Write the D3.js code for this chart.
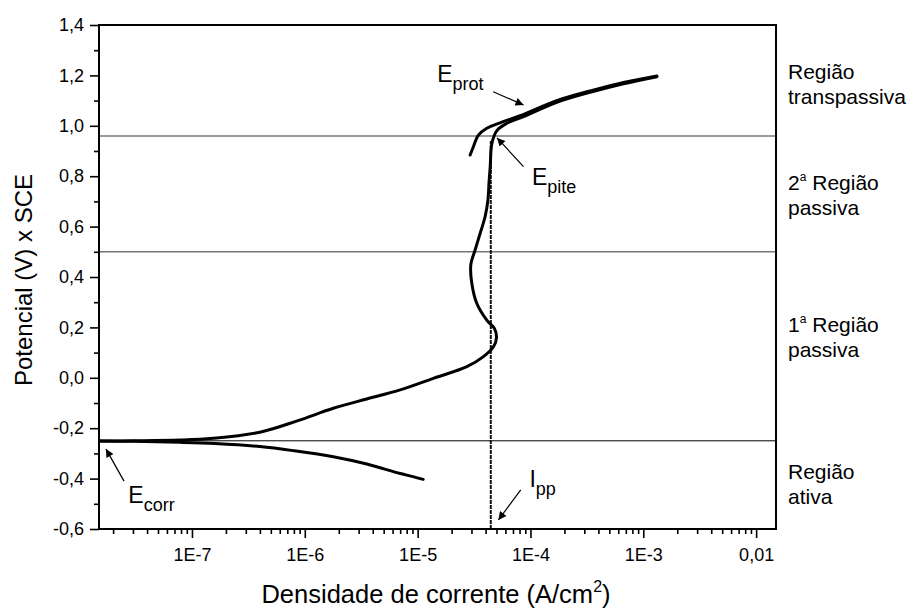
<!DOCTYPE html>
<html><head><meta charset="utf-8">
<script src="https://cdn.jsdelivr.net/npm/d3@7"></script>
<style>
html,body{margin:0;padding:0;background:#fff;}
svg text{font-family:"Liberation Sans",Arial,sans-serif;fill:#000;}
</style></head>
<body><svg id="c" width="911" height="608"></svg>
<script>
// ---- data ----
const xDomain = [1.5e-8, 1.5e-2];
const yDomain = [-0.6, 1.4];
const xTickValues = [1e-7, 1e-6, 1e-5, 1e-4, 1e-3, 1e-2];
const xTickLabels = ["1E-7", "1E-6", "1E-5", "1E-4", "1E-3", "0,01"];
const yTickValues = [-0.6, -0.4, -0.2, 0.0, 0.2, 0.4, 0.6, 0.8, 1.0, 1.2, 1.4];
const yTickLabels = ["-0,6", "-0,4", "-0,2", "0,0", "0,2", "0,4", "0,6", "0,8", "1,0", "1,2", "1,4"];
const yMinorValues = [-0.5, -0.3, -0.1, 0.1, 0.3, 0.5, 0.7, 0.9, 1.1, 1.3];

// cathodic branch [current A/cm2, potential V]
const cathodicBranch = [
  [1.12e-5, -0.403], [9.1e-6, -0.392], [7.0e-6, -0.380], [3.54e-6, -0.342], [1.79e-6, -0.313],
  [7.9e-7, -0.289], [4.0e-7, -0.273], [1.6e-7, -0.261], [7.8e-8, -0.256], [3e-8, -0.252], [1.5e-8, -0.251]
];
// anodic forward scan
const anodicForward = [
  [1.5e-8, -0.251], [3e-8, -0.250], [7.8e-8, -0.247], [1.54e-7, -0.240], [4.0e-7, -0.216],
  [8.7e-7, -0.170], [1.79e-6, -0.121], [3.54e-6, -0.084], [7.0e-6, -0.048], [1.38e-5, -0.002],
  [2.73e-5, 0.044], [3.83e-5, 0.084], [4.7e-5, 0.123], [5.0e-5, 0.160], [4.8e-5, 0.195],
  [4.1e-5, 0.229], [3.34e-5, 0.296], [3.02e-5, 0.375], [2.96e-5, 0.448], [3.23e-5, 0.507],
  [3.58e-5, 0.573], [3.96e-5, 0.639], [4.2e-5, 0.706], [4.3e-5, 0.780], [4.4e-5, 0.840],
  [4.55e-5, 0.930], [5.04e-5, 0.981], [6.17e-5, 1.010], [8.67e-5, 1.036], [1.71e-4, 1.093],
  [3.38e-4, 1.133], [6.67e-4, 1.167], [1.32e-3, 1.195]
];
// reverse scan
const reverseScan = [
  [1.32e-3, 1.198], [6.67e-4, 1.172], [3.38e-4, 1.138], [1.71e-4, 1.100], [8.09e-5, 1.040],
  [5.38e-5, 1.012], [4.1e-5, 0.990], [3.46e-5, 0.963], [3.12e-5, 0.917], [2.92e-5, 0.884]
];
// region boundaries (potential, V)
const regionLines = [0.96, 0.5, -0.25];
// passivation current
const ippCurrent = 4.45e-5;
const ippTop = 0.94;
// region names
const regionLabels = [
  {lines: [["Região"], ["transpassiva"]], E: 1.186},
  {lines: [["2", "a", " Região"], ["passiva"]], E: 0.745},
  {lines: [[" 1", "a", " Região"], ["passiva"]], E: 0.18},
  {lines: [["Região"], ["ativa"]], E: -0.40}
];
// annotations: label anchor (i,E) and arrow from/to (i,E)
const annotations = [
  {main: "E", sub: "prot", i: 1.49e-5, E: 1.174, from: [4.67e-5, 1.135], to: [8.67e-5, 1.083]},
  {main: "E", sub: "pite", i: 1.03e-4, E: 0.765, from: [8.67e-5, 0.838], to: [5.06e-5, 0.952]},
  {main: "E", sub: "corr", i: 2.73e-8, E: -0.498, from: [2.5e-8, -0.41], to: [1.73e-8, -0.283]},
  {main: "I", sub: "pp", i: 9.8e-5, E: -0.432, from: [8.2e-5, -0.445], to: [5.2e-5, -0.564]}
];

// ---- chart ----
const svg = d3.select("#c");
const L = 99, R = 776, T = 25, B = 529;
const x = d3.scaleLog().domain(xDomain).range([L, R]);
const y = d3.scaleLinear().domain(yDomain).range([B, T]);

const defs = svg.append("defs");
defs.append("marker").attr("id", "ah").attr("viewBox", "0 0 10 10")
  .attr("refX", 10).attr("refY", 5).attr("markerWidth", 11).attr("markerHeight", 8)
  .attr("markerUnits", "userSpaceOnUse").attr("orient", "auto")
  .append("path").attr("d", "M0,0 L10,5 L0,10 Z").attr("fill", "#000");
defs.append("clipPath").attr("id", "clip").append("rect")
  .attr("x", L).attr("y", T).attr("width", R - L).attr("height", B - T);

// region lines
svg.append("g").selectAll("line").data(regionLines).join("line")
  .attr("x1", L).attr("x2", R).attr("y1", d => y(d)).attr("y2", d => y(d))
  .attr("stroke", (d, k) => k < 2 ? "#777" : "#000")
  .attr("stroke-width", (d, k) => k < 2 ? 1.5 : 1);

// Ipp vertical line
svg.append("line").attr("x1", x(ippCurrent)).attr("x2", x(ippCurrent))
  .attr("y1", y(yDomain[0])).attr("y2", y(ippTop))
  .attr("stroke", "#111").attr("stroke-width", 2).attr("stroke-dasharray", "4,1");

// curves
const line = d3.line().x(d => x(d[0])).y(d => y(d[1])).curve(d3.curveCatmullRom.alpha(0.5));
const cg = svg.append("g").attr("clip-path", "url(#clip)");
[cathodicBranch, anodicForward, reverseScan].forEach(s => {
  cg.append("path").attr("d", line(s)).attr("fill", "none").attr("stroke", "#000")
    .attr("stroke-width", 3).attr("stroke-linejoin", "round").attr("stroke-linecap", "round");
});

// axes
const xMinor = [];
for (let e = -8; e <= -2; e++) for (let m = 2; m <= 9; m++) {
  const v = m * Math.pow(10, e);
  if (v >= xDomain[0] && v <= xDomain[1]) xMinor.push(v);
}
const gx = svg.append("g").attr("transform", `translate(0,${B})`);
gx.call(d3.axisBottom(x).tickValues(xMinor).tickSize(5).tickFormat(""));
gx.call(g => g.append("g").call(d3.axisBottom(x).tickValues(xTickValues).tickSize(9)
  .tickPadding(10).tickFormat((d, k) => xTickLabels[k])));
gx.selectAll(".domain").remove();
gx.selectAll("line").attr("stroke", "#000").attr("stroke-width", 1.6);
gx.selectAll("text").attr("font-size", 18).attr("font-family", '"Liberation Sans",Arial,sans-serif');

const gy = svg.append("g").attr("transform", `translate(${L},0)`);
gy.call(d3.axisLeft(y).tickValues(yMinorValues).tickSize(5).tickFormat(""));
gy.call(g => g.append("g").call(d3.axisLeft(y).tickValues(yTickValues).tickSize(9)
  .tickPadding(6).tickFormat((d, k) => yTickLabels[k])));
gy.selectAll(".domain").remove();
gy.selectAll("line").attr("stroke", "#000").attr("stroke-width", 1.6);
gy.selectAll("text").attr("font-size", 18).attr("font-family", '"Liberation Sans",Arial,sans-serif');

// frame
svg.append("rect").attr("x", L).attr("y", T).attr("width", R - L).attr("height", B - T)
  .attr("fill", "none").attr("stroke", "#000").attr("stroke-width", 2);

// axis titles
const xt = svg.append("text").attr("x", 436).attr("y", 603)
  .attr("text-anchor", "middle").attr("font-size", 25.5);
xt.append("tspan").text("Densidade de corrente (A/cm");
xt.append("tspan").attr("font-size", 16).attr("dy", -11).text("2");
xt.append("tspan").attr("dy", 11).text(")");

svg.append("text").attr("transform", `translate(32,${(T + B) / 2 + 3}) rotate(-90)`)
  .attr("text-anchor", "middle").attr("font-size", 24).text("Potencial (V) x SCE");

// region labels
regionLabels.forEach(r => {
  const t = svg.append("text").attr("x", 788).attr("y", y(r.E)).attr("font-size", 21);
  r.lines.forEach((parts, li) => {
    parts.forEach((p, pi) => {
      const ts = t.append("tspan").text(p);
      if (pi === 0) ts.attr("x", 788).attr("dy", li === 0 ? 0 : 25);
      if (parts.length === 3 && pi === 1) ts.attr("font-size", 12).attr("dy", -9);
      if (parts.length === 3 && pi === 2) ts.attr("dy", 9);
    });
  });
});

// annotations
annotations.forEach(a => {
  const t = svg.append("text").attr("x", x(a.i)).attr("y", y(a.E)).attr("font-size", 23);
  t.append("tspan").text(a.main);
  t.append("tspan").attr("font-size", 18).attr("dy", 8).text(a.sub);
  svg.append("line").attr("x1", x(a.from[0])).attr("y1", y(a.from[1]))
    .attr("x2", x(a.to[0])).attr("y2", y(a.to[1]))
    .attr("stroke", "#000").attr("stroke-width", 1.2).attr("marker-end", "url(#ah)");
});
</script></body></html>
